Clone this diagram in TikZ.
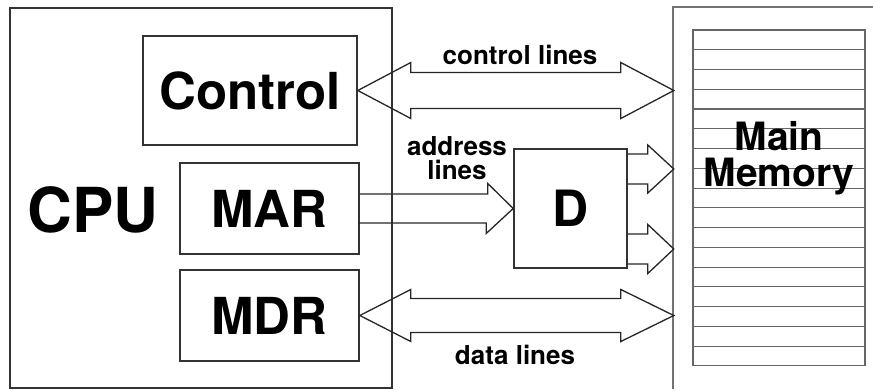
\documentclass[tikz,border=0pt]{standalone}
\usepackage{fontspec}
\setmainfont{TeX Gyre Heros}
\usepackage{tikz}
\usetikzlibrary{arrows.meta}
\newcommand{\bigfont}[1]{\bfseries\fontsize{#1}{#1}\selectfont}
\tikzset{
  unitbox/.style={draw=black!80,line width=1.6pt,inner sep=0pt,font=\bigfont{51}},
  busarrow/.style={draw=black!85,line width=1.3pt,line join=miter},
  buslabel/.style={font=\bfseries\fontsize{26}{24}\selectfont,align=center,inner sep=0pt},
  memcell/.style={draw=black!60,line width=1.1pt}
}

\begin{document}
\begin{tikzpicture}[x=1pt,y=-1pt]
\useasboundingbox (0,0) rectangle (873,389);
\node[unitbox,minimum width=382pt,minimum height=380pt] (cpu) at (201,198) {};
\node[font=\bigfont{62}] (cpulbl) at (93,210) {CPU};
\node[unitbox,minimum width=214pt,minimum height=109pt] (ctrl) at (250,90.5) {Control};
\node[unitbox,minimum width=179pt,minimum height=91pt] (mar) at (269.5,208.5) {MAR};
\node[unitbox,minimum width=179pt,minimum height=91pt] (mdr) at (269.5,315.5) {MDR};
\node[unitbox,minimum width=113pt,minimum height=119pt,font=\bigfont{50}] (d) at (570.5,208.5) {D};
\draw[memcell,draw=black!55] (673,389) -- (673,7) -- (873,7);
\foreach \i in {0,...,16}
  \draw[memcell] (693,30+\i*19.76) rectangle ++(172,19.76);
\node[font=\bigfont{39},align=center] (mem) at (779,158) {Main\\[-3pt]Memory};
\draw[busarrow] (ctrl.east) -- ++(53,-28) -- ++(0,10) -- ++(210,0) -- ++(0,-10)
  -- ++(53,28) -- ++(-53,28) -- ++(0,-10) -- ++(-210,0) -- ++(0,10) -- cycle;
\draw[busarrow] (mdr.east) -- ++(51,-26) -- ++(0,9) -- ++(210,0) -- ++(0,-9)
  -- ++(53,26) -- ++(-53,26) -- ++(0,-9) -- ++(-210,0) -- ++(0,9) -- cycle;
\draw[busarrow] ([yshift=14.5pt]mar.east) -- ++(128,0) -- ++(0,-10.5) -- (d.west)
  -- ++(-27,25) -- ++(0,-10.5) -- ++(-128,0);
\draw[busarrow] ([yshift=54.5pt]d.east) -- ++(20,0) -- ++(0,-9) -- ++(26,24)
  -- ++(-26,24) -- ++(0,-9) -- ++(-20,0);
\draw[busarrow] ([yshift=-25.5pt]d.east) -- ++(20,0) -- ++(0,-9.5) -- ++(26,24.5)
  -- ++(-26,24.5) -- ++(0,-9.5) -- ++(-20,0);
\node[buslabel] (ctrllbl) at (520,55) {control lines};
\node[buslabel] (addrlbl) at (457,158) {address\\lines};
\node[buslabel] (datalbl) at (515,355) {data lines};
\end{tikzpicture}
\end{document}
